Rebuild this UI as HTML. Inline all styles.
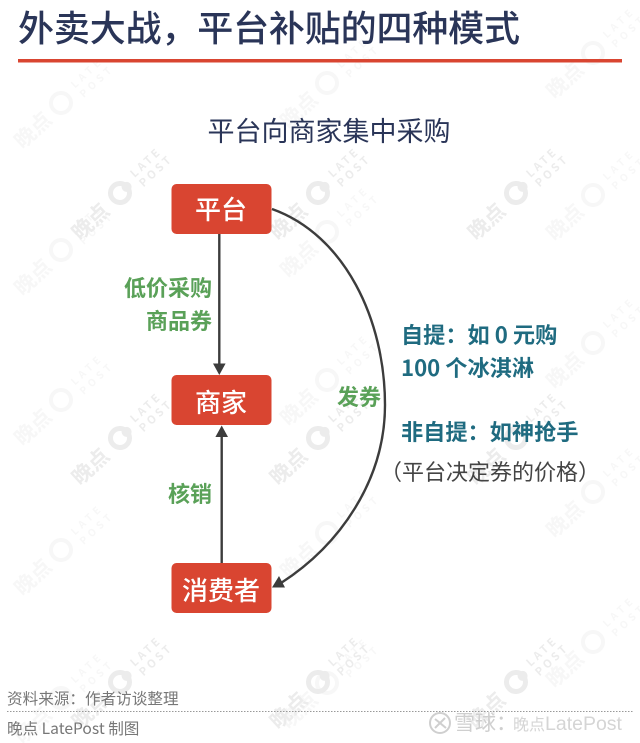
<!DOCTYPE html>
<html>
<head>
<meta charset="utf-8">
<style>
html,body{margin:0;padding:0;background:#fff}
svg{display:block}
text{font-family:"Noto Sans CJK SC","Liberation Sans",sans-serif}
.w{fill:#ececec;font-weight:700}
.l{fill:#f7f7f7;font-weight:700}
.g{fill:#5aa158;font-weight:700;font-size:22px}
.t{fill:#1f6b80;font-weight:700;font-size:22.2px}
.n{fill:#fff;font-size:26px;text-anchor:middle;font-weight:500}
.r{fill:#d94531}
</style>
</head>
<body>
<svg width="640" height="743" viewBox="0 0 640 743" xmlns="http://www.w3.org/2000/svg">
<rect width="640" height="743" fill="#fff"/>

<!-- light watermarks -->
<g class="l">
<g transform="translate(61,103) rotate(-43)"><text x="-18" y="8" font-size="21" text-anchor="end">晚点</text><circle r="10" fill="none" stroke="#f7f7f7" stroke-width="4"/><text x="20" y="-1" font-size="10" letter-spacing="4">LATE</text><text x="20" y="12" font-size="10" letter-spacing="4">POST</text></g>
<g transform="translate(61,250) rotate(-43)"><text x="-18" y="8" font-size="21" text-anchor="end">晚点</text><circle r="10" fill="none" stroke="#f7f7f7" stroke-width="4"/><text x="20" y="-1" font-size="10" letter-spacing="4">LATE</text><text x="20" y="12" font-size="10" letter-spacing="4">POST</text></g>
<g transform="translate(61,400) rotate(-43)"><text x="-18" y="8" font-size="21" text-anchor="end">晚点</text><circle r="10" fill="none" stroke="#f7f7f7" stroke-width="4"/><text x="20" y="-1" font-size="10" letter-spacing="4">LATE</text><text x="20" y="12" font-size="10" letter-spacing="4">POST</text></g>
<g transform="translate(61,550) rotate(-43)"><text x="-18" y="8" font-size="21" text-anchor="end">晚点</text><circle r="10" fill="none" stroke="#f7f7f7" stroke-width="4"/><text x="20" y="-1" font-size="10" letter-spacing="4">LATE</text><text x="20" y="12" font-size="10" letter-spacing="4">POST</text></g>
<g transform="translate(61,698) rotate(-43)"><text x="-18" y="8" font-size="21" text-anchor="end">晚点</text><circle r="10" fill="none" stroke="#f7f7f7" stroke-width="4"/><text x="20" y="-1" font-size="10" letter-spacing="4">LATE</text><text x="20" y="12" font-size="10" letter-spacing="4">POST</text></g>
<g transform="translate(327,83) rotate(-43)"><text x="-18" y="8" font-size="21" text-anchor="end">晚点</text><circle r="10" fill="none" stroke="#f7f7f7" stroke-width="4"/><text x="20" y="-1" font-size="10" letter-spacing="4">LATE</text><text x="20" y="12" font-size="10" letter-spacing="4">POST</text></g>
<g transform="translate(327,232) rotate(-43)"><text x="-18" y="8" font-size="21" text-anchor="end">晚点</text><circle r="10" fill="none" stroke="#f7f7f7" stroke-width="4"/><text x="20" y="-1" font-size="10" letter-spacing="4">LATE</text><text x="20" y="12" font-size="10" letter-spacing="4">POST</text></g>
<g transform="translate(327,380) rotate(-43)"><text x="-18" y="8" font-size="21" text-anchor="end">晚点</text><circle r="10" fill="none" stroke="#f7f7f7" stroke-width="4"/><text x="20" y="-1" font-size="10" letter-spacing="4">LATE</text><text x="20" y="12" font-size="10" letter-spacing="4">POST</text></g>
<g transform="translate(327,533) rotate(-43)"><text x="-18" y="8" font-size="21" text-anchor="end">晚点</text><circle r="10" fill="none" stroke="#f7f7f7" stroke-width="4"/><text x="20" y="-1" font-size="10" letter-spacing="4">LATE</text><text x="20" y="12" font-size="10" letter-spacing="4">POST</text></g>
<g transform="translate(327,683) rotate(-43)"><text x="-18" y="8" font-size="21" text-anchor="end">晚点</text><circle r="10" fill="none" stroke="#f7f7f7" stroke-width="4"/><text x="20" y="-1" font-size="10" letter-spacing="4">LATE</text><text x="20" y="12" font-size="10" letter-spacing="4">POST</text></g>
<g transform="translate(593,53) rotate(-43)"><text x="-18" y="8" font-size="21" text-anchor="end">晚点</text><circle r="10" fill="none" stroke="#f7f7f7" stroke-width="4"/><text x="20" y="-1" font-size="10" letter-spacing="4">LATE</text><text x="20" y="12" font-size="10" letter-spacing="4">POST</text></g>
<g transform="translate(593,195) rotate(-43)"><text x="-18" y="8" font-size="21" text-anchor="end">晚点</text><circle r="10" fill="none" stroke="#f7f7f7" stroke-width="4"/><text x="20" y="-1" font-size="10" letter-spacing="4">LATE</text><text x="20" y="12" font-size="10" letter-spacing="4">POST</text></g>
<g transform="translate(593,343) rotate(-43)"><text x="-18" y="8" font-size="21" text-anchor="end">晚点</text><circle r="10" fill="none" stroke="#f7f7f7" stroke-width="4"/><text x="20" y="-1" font-size="10" letter-spacing="4">LATE</text><text x="20" y="12" font-size="10" letter-spacing="4">POST</text></g>
<g transform="translate(593,492) rotate(-43)"><text x="-18" y="8" font-size="21" text-anchor="end">晚点</text><circle r="10" fill="none" stroke="#f7f7f7" stroke-width="4"/><text x="20" y="-1" font-size="10" letter-spacing="4">LATE</text><text x="20" y="12" font-size="10" letter-spacing="4">POST</text></g>
<g transform="translate(593,642) rotate(-43)"><text x="-18" y="8" font-size="21" text-anchor="end">晚点</text><circle r="10" fill="none" stroke="#f7f7f7" stroke-width="4"/><text x="20" y="-1" font-size="10" letter-spacing="4">LATE</text><text x="20" y="12" font-size="10" letter-spacing="4">POST</text></g>
</g>

<!-- strong watermarks -->
<g class="w">
<g transform="translate(120,193) rotate(-43)"><text x="-20" y="8" font-size="21" text-anchor="end">晚点</text><circle r="9.500" fill="none" stroke="#ececec" stroke-width="5"/><circle cx="9" cy="0" r="5" fill="#ececec"/><text x="21" y="-1" font-size="11" letter-spacing="3">LATE</text><text x="21" y="12" font-size="11" letter-spacing="3">POST</text></g>
<g transform="translate(318,193) rotate(-43)"><text x="-20" y="8" font-size="21" text-anchor="end">晚点</text><circle r="9.500" fill="none" stroke="#ececec" stroke-width="5"/><circle cx="9" cy="0" r="5" fill="#ececec"/><text x="21" y="-1" font-size="11" letter-spacing="3">LATE</text><text x="21" y="12" font-size="11" letter-spacing="3">POST</text></g>
<g transform="translate(516,193) rotate(-43)"><text x="-20" y="8" font-size="21" text-anchor="end">晚点</text><circle r="9.500" fill="none" stroke="#ececec" stroke-width="5"/><circle cx="9" cy="0" r="5" fill="#ececec"/><text x="21" y="-1" font-size="11" letter-spacing="3">LATE</text><text x="21" y="12" font-size="11" letter-spacing="3">POST</text></g>
<g transform="translate(120,438) rotate(-43)"><text x="-20" y="8" font-size="21" text-anchor="end">晚点</text><circle r="9.500" fill="none" stroke="#ececec" stroke-width="5"/><circle cx="9" cy="0" r="5" fill="#ececec"/><text x="21" y="-1" font-size="11" letter-spacing="3">LATE</text><text x="21" y="12" font-size="11" letter-spacing="3">POST</text></g>
<g transform="translate(318,438) rotate(-43)"><text x="-20" y="8" font-size="21" text-anchor="end">晚点</text><circle r="9.500" fill="none" stroke="#ececec" stroke-width="5"/><circle cx="9" cy="0" r="5" fill="#ececec"/><text x="21" y="-1" font-size="11" letter-spacing="3">LATE</text><text x="21" y="12" font-size="11" letter-spacing="3">POST</text></g>
<g transform="translate(516,438) rotate(-43)"><text x="-20" y="8" font-size="21" text-anchor="end">晚点</text><circle r="9.500" fill="none" stroke="#ececec" stroke-width="5"/><circle cx="9" cy="0" r="5" fill="#ececec"/><text x="21" y="-1" font-size="11" letter-spacing="3">LATE</text><text x="21" y="12" font-size="11" letter-spacing="3">POST</text></g>
<g transform="translate(120,682) rotate(-43)"><text x="-20" y="8" font-size="21" text-anchor="end">晚点</text><circle r="9.500" fill="none" stroke="#ececec" stroke-width="5"/><circle cx="9" cy="0" r="5" fill="#ececec"/><text x="21" y="-1" font-size="11" letter-spacing="3">LATE</text><text x="21" y="12" font-size="11" letter-spacing="3">POST</text></g>
<g transform="translate(318,682) rotate(-43)"><text x="-20" y="8" font-size="21" text-anchor="end">晚点</text><circle r="9.500" fill="none" stroke="#ececec" stroke-width="5"/><circle cx="9" cy="0" r="5" fill="#ececec"/><text x="21" y="-1" font-size="11" letter-spacing="3">LATE</text><text x="21" y="12" font-size="11" letter-spacing="3">POST</text></g>
<g transform="translate(516,682) rotate(-43)"><text x="-20" y="8" font-size="21" text-anchor="end">晚点</text><circle r="9.500" fill="none" stroke="#ececec" stroke-width="5"/><circle cx="9" cy="0" r="5" fill="#ececec"/><text x="21" y="-1" font-size="11" letter-spacing="3">LATE</text><text x="21" y="12" font-size="11" letter-spacing="3">POST</text></g>
</g>

<!-- title -->
<text x="18" y="41" font-size="36" font-weight="500" fill="#2a3558" textLength="502" lengthAdjust="spacing">外卖大战，平台补贴的四种模式</text>
<rect x="18" y="59" width="604" height="3.5" fill="#d94531"/>
<text x="329" y="141" font-size="27" fill="#2a3558" text-anchor="middle">平台向商家集中采购</text>

<!-- connectors -->
<g fill="none" stroke="#3c3c3c" stroke-width="2.4">
<path d="M219.300 234V366"/>
<path d="M221.700 563V435"/>
<path d="M272 209C345 235 385 320 385 405C385 480 340 545 281 583"/>
</g>
<g fill="#3c3c3c">
<path d="M219.300 375L213 363.500H225.600Z"/>
<path d="M221.700 425.500L228 437H215.400Z"/>
<path d="M272 587.500L279 576L285 587.500Z"/>
</g>

<!-- nodes -->
<rect class="r" x="171.500" y="184" width="100" height="50" rx="5"/>
<rect class="r" x="171.500" y="375" width="100" height="50" rx="5"/>
<rect class="r" x="171.500" y="563" width="100" height="50" rx="5"/>
<text class="n" x="221" y="219">平台</text>
<text class="n" x="221" y="412">商家</text>
<text class="n" x="221" y="600">消费者</text>

<!-- green labels -->
<text class="g" x="212" y="296" text-anchor="end">低价采购</text>
<text class="g" x="212" y="329" text-anchor="end">商品券</text>
<text class="g" x="381" y="405" text-anchor="end">发券</text>
<text class="g" x="212" y="502" text-anchor="end">核销</text>

<!-- teal text -->
<text class="t" x="401" y="343">自提：如 0 元购</text>
<text class="t" x="401" y="376">100 个冰淇淋</text>
<text class="t" x="401" y="440">非自提：如神抢手</text>
<text x="380" y="480" font-size="22" fill="#444">（平台决定券的价格）</text>

<!-- footer -->
<text x="7" y="704" font-size="15.600" fill="#777">资料来源：作者访谈整理</text>
<line x1="7" y1="711.500" x2="634" y2="711.500" stroke="#999" stroke-width="1" stroke-dasharray="1.500 1.500"/>
<text x="7" y="734" font-size="15.600" fill="#777">晚点 LatePost 制图</text>

<!-- platform mark -->
<g fill="none" stroke="#cfcfcf" stroke-width="2">
<circle cx="440" cy="723" r="10"/>
<path d="M435 719L440 723L435 728M445 718L440 723L446 728"/>
</g>
<text x="454" y="730" font-size="21" fill="#cfcfcf">雪球：</text>
<text x="513" y="730" font-size="16" fill="#d5d5d5">晚点</text>
<text x="545" y="730" font-size="19.500" fill="#d5d5d5" style="font-family:'Liberation Sans',sans-serif">LatePost</text>
</svg>
</body>
</html>
